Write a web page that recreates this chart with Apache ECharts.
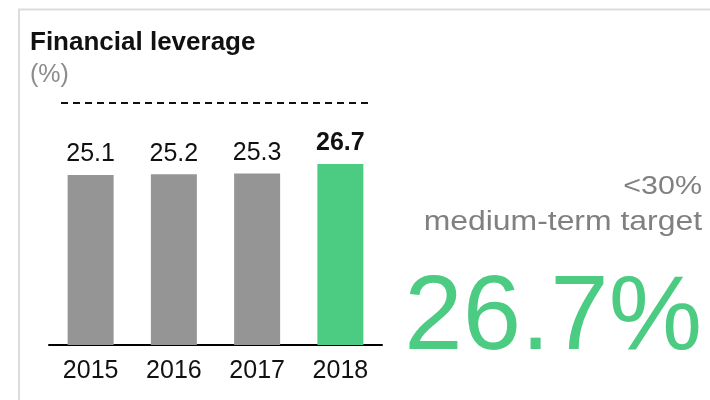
<!DOCTYPE html>
<html>
<head>
<meta charset="utf-8">
<script src="https://cdn.jsdelivr.net/npm/echarts@6/dist/echarts.min.js"></script>
<style>
  html, body { margin: 0; padding: 0; background: #fff; }
  #leverage { width: 710px; height: 400px; }
</style>
</head>
<body>
<div id="leverage"></div>
<script>
// 财务杠杆 - data
var years = ['2015', '2016', '2017', '2018'];
var leverageValues = [25.1, 25.2, 25.3, 26.7];
var targetText = '<30%';
var targetLabel = 'medium-term target';
var currentText = '26.7%';
var dashLineValue = 35.7;

var GRAY = '#959595';
var GREEN = '#4ccb83';
var FONT = '"Liberation Sans", Arial, Helvetica, sans-serif';

var leverageChart = echarts.init(document.getElementById('leverage'));

// last year is highlighted
var barData = leverageValues.map(function (v, i) {
    var last = i === leverageValues.length - 1;
    return {
        value: v,
        itemStyle: { color: last ? GREEN : GRAY },
        label: { fontWeight: last ? 'bold' : 'normal' }
    };
});

leverageChart.setOption({
    animation: false,
    textStyle: { fontFamily: FONT },
    grid: {
        left: 49,
        right: 328,
        top: 101,
        bottom: 55,
        containLabel: false
    },
    xAxis: [{
        type: 'category',
        data: years,
        axisLine: { lineStyle: { color: '#000', width: 2 } },
        axisTick: { show: false },
        axisLabel: {
            color: '#111',
            fontSize: 25,
            fontFamily: FONT,
            margin: 14
        }
    }],
    yAxis: [{
        type: 'value',
        min: 0,
        max: 36,
        show: false,
        splitLine: { show: false }
    }],
    series: [{
        type: 'bar',
        data: barData,
        barWidth: 46,
        label: {
            show: true,
            position: 'top',
            distance: 8,
            color: '#111',
            fontSize: 25,
            fontFamily: FONT
        },
        markLine: {
            silent: true,
            symbol: 'none',
            label: { show: false },
            lineStyle: { color: '#111', type: [7, 5], width: 2 },
            data: [[
                { x: 61, yAxis: dashLineValue },
                { x: 371, yAxis: dashLineValue }
            ]]
        }
    }],
    graphic: [{
        type: 'rect',
        silent: true,
        shape: { x: 19, y: 9.5, width: 720, height: 420 },
        style: { fill: 'none', stroke: '#dcdcdc', lineWidth: 2 }
    }, {
        type: 'text',
        x: 30,
        y: 43,
        style: {
            text: 'Financial leverage',
            font: 'bold 26px ' + FONT,
            fill: '#111',
            align: 'left',
            verticalAlign: 'middle'
        }
    }, {
        type: 'text',
        x: 30,
        y: 75,
        style: {
            text: '(%)',
            font: '25px ' + FONT,
            fill: '#8c8c8c',
            align: 'left',
            verticalAlign: 'middle'
        }
    }, {
        type: 'text',
        x: 702,
        y: 187,
        scaleX: 1.17,
        style: {
            text: targetText,
            font: '26px ' + FONT,
            fill: '#808080',
            align: 'right',
            verticalAlign: 'middle'
        }
    }, {
        type: 'text',
        x: 702,
        y: 222,
        scaleX: 1.16,
        style: {
            text: targetLabel,
            font: '27.5px ' + FONT,
            fill: '#808080',
            align: 'right',
            verticalAlign: 'middle'
        }
    }, {
        type: 'text',
        x: 702,
        y: 320,
        style: {
            text: currentText,
            font: '105px ' + FONT,
            fill: GREEN,
            align: 'right',
            verticalAlign: 'middle'
        }
    }]
});
</script>
</body>
</html>
